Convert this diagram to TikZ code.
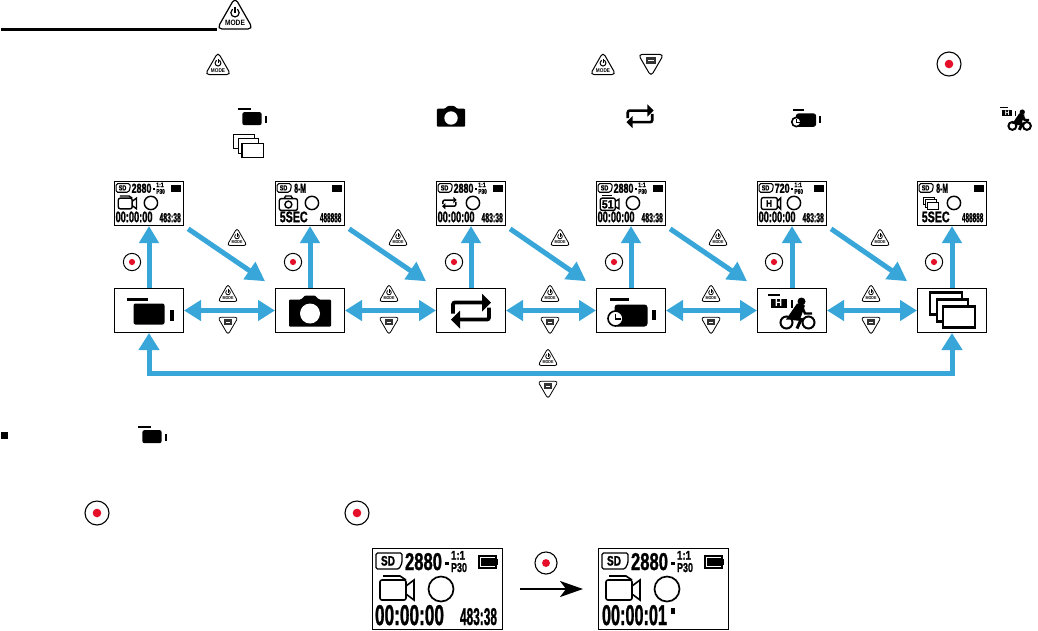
\documentclass[tikz,border=0pt]{standalone}
\usepackage{fontspec}
\setmainfont{Liberation Sans}
\newfontface\lcdface{Liberation Sans Bold}[FakeBold=1.5]
\usetikzlibrary{arrows.meta}
\definecolor{flow}{HTML}{38A6D8}
\definecolor{recred}{HTML}{E60F2A}
\definecolor{btndark}{HTML}{333333}
\newcount\lcdn
\def\btnr{5pt}
\newcommand\fit[3]{\resizebox{#1pt}{#2pt}{#3}}
\newcommand\lcdtext[5]{\global\advance\lcdn by 1 \node[lcdt] (t\the\lcdn) at (#1,#2) {\fit{#3}{#4}{\lcdface #5}};}
\newcommand\lcdbase[1]{%
  \draw[line width=#1pt,rounded corners=1.5pt] (4,5) -- (30,5) -- (30,15) -- (27,21) -- (4,21) -- cycle;
  \lcdtext{9}{8}{14}{9.5}{SD}
  \draw[line width=#1pt] (107,8) rectangle (124,20);
  \fill (109,10) rectangle (124,18);
  \fill (124,11) rectangle (126,17);
  \draw[line width=1.3*#1pt] (69,41) circle[radius=12.5];
}
\newcommand\lcdratio[1]{%
  \fill (73,14) rectangle (77,17);
  \lcdtext{79}{3}{14}{8.5}{1:1}
  \lcdtext{79}{15}{16}{9}{#1}
}
\newcommand\lcdcam[1]{%
  \draw[line width=#1pt,rounded corners=2pt] (8,32) rectangle (34,52);
  \draw[line width=#1pt] (11,28) -- (28,28) -- (34,32);
  \draw[line width=#1pt] (34,38) -- (42,32) -- (42,52) -- (34,46);
}
\newcommand\lcdphoto[1]{%
  \draw[line width=#1pt,rounded corners=2pt] (8,33) rectangle (42,55);
  \draw[line width=#1pt] (17,33) -- (20,28) -- (30,28) -- (33,33);
  \draw[line width=#1pt] (25,44) circle[radius=6.5];
}
\newcommand\lcdtimer[1]{%
  \draw[line width=#1pt] (12,27) -- (30,27);
  \draw[line width=#1pt,rounded corners=2pt] (8,32) rectangle (36,55);
  \lcdtext{11}{36}{22}{15}{51}
  \draw[line width=#1pt] (36,38) -- (43,34) -- (43,52) -- (36,48);
}
\newcommand\lcdhcam[1]{%
  \draw[line width=#1pt,rounded corners=2pt] (8,31) rectangle (38,53);
  \lcdtext{17}{36}{11}{12}{H}
  \draw[line width=#1pt] (38,38) -- (44,32) -- (44,52) -- (38,46);
}
\newcommand\lcdshot[2]{% x, text
  \begin{scope}[shift={(#1,181)},scale=.535,transform shape]
    #2
  \end{scope}}
\tikzset{
  x=1pt,y=-1pt,
  lcdt/.style={anchor=north west,inner sep=0pt,outer sep=0pt},
  modebox/.style={draw=black,line width=1pt,fill=white,minimum width=69pt,minimum height=44pt,inner sep=0pt,anchor=north west},
  flowline/.style={draw=flow,line width=5pt},
  uptip/.style={-{Triangle[width=19pt,length=17pt]}},
  bothtip/.style={{Triangle[width=20pt,length=17pt]}-{Triangle[width=20pt,length=17pt]}},
  difftip/.style={-{Triangle[width=20pt,length=19pt]},shorten <=5pt,shorten >=12pt},
  pics/modebtn/.style={code={
    \draw[fill=white,rounded corners=\btnr] (0,-20) -- (20,15) -- (-20,15) -- cycle;
    \draw (0,-3) circle[radius=4.6];
    \fill[white] (-2,-9.5) rectangle (2,-5);
    \draw (0,-9.5) -- (0,-3);
    \node[inner sep=0pt,transform shape] (modetxt) at (0,8) {\fit{22}{6}{\bfseries MODE}};
  }},
  pics/menubtn/.style={code={
    \draw[fill=white,rounded corners=\btnr] (-14.5,-11) -- (14.5,-11) -- (0,14) -- cycle;
    \fill[btndark] (-6,-8) rectangle (6,0);
    \draw[white,line width=.6pt] (-3,-4) -- (3,-4);
  }},
  pics/recbtn/.style={code={
    \draw (0,0) circle[radius=12];
    \fill[recred] (0,0) circle[radius=4.3];
  }},
  pics/filmcam/.style={code={
    \fill (-22.5,-13) rectangle (-1.5,-10);
    \fill[rounded corners=2pt] (-15.5,-7) rectangle (15.5,14);
    \fill (20.5,-1) rectangle (24.5,10);
  }},
  pics/photocam/.style={code={
    \fill[rounded corners=1pt] (-21,-11) -- (-9,-11) -- (-5,-15) -- (5,-15) -- (9,-11) -- (21,-11) -- (21,16) -- (-21,16) -- cycle;
    \fill[white] (0,3) circle[radius=10];
  }},
  pics/looparrows/.style={code={
    \draw[rounded corners=2pt] (-18,3) -- (-18,-8) -- (12,-8);
    \fill (11,-17) -- (20,-8) -- (11,1) -- cycle;
    \draw[rounded corners=2pt] (18,-3) -- (18,9) -- (-12,9);
    \fill (-11,0) -- (-20,9) -- (-11,18) -- cycle;
  }},
  pics/timecam/.style={code={
    \fill (-21.5,-13) rectangle (-2.5,-10);
    \fill[rounded corners=3pt] (-16.5,-6) rectangle (16.5,16);
    \fill (20.5,-1) rectangle (24.5,9);
    \draw[fill=white,line width=1.6pt] (-15.5,8) circle[radius=7.5];
    \draw[line width=1.2pt] (-15.5,3.5) -- (-15.5,8.5) -- (-10.5,8.5);
  }},
  pics/sportcam/.style={code={
    \fill (-24.5,-17) rectangle (-12.5,-15);
    \fill (-21.5,-12) rectangle (-5.5,-3);
    \node[inner sep=0pt,transform shape] (sporth) at (-13.5,-7.5) {\fit{7}{7}{\color{white}\bfseries H}};
    \fill (-1.5,-11) rectangle (0.5,-3);
    \fill (9.5,-9) circle[radius=4];
    \draw[line width=2pt] (-5.5,12) circle[radius=6];
    \draw[line width=2pt] (16.5,12) circle[radius=6];
    \fill (5,-7) -- (13,-5) -- (8,9) -- (-6,9) -- cycle;
    \draw[line width=2.4pt] (10,-4) -- (13,3) -- (20,3);
    \draw[line width=3pt] (0,8) -- (9,9) -- (5,18);
  }},
  pics/stackframes/.style={code={
    \draw[fill=white] (-22,-18) rectangle (10,4);
    \draw[fill=white] (-15,-11) rectangle (16,11);
    \draw[fill=white] (-9,-4) rectangle (23,17);
  }},
}
\newcommand\smallmode[2]{{\def\btnr{3pt}\pic[scale=.5,transform shape,line width=.8pt] at (#1,#2) {modebtn};}}
\newcommand\smallmenu[2]{{\def\btnr{3pt}\pic[scale=.7,transform shape,line width=.8pt] at (#1,#2) {menubtn};}}
\newcommand\smallrec[2]{\pic[scale=.72,transform shape,line width=1pt] at (#1,#2) {recbtn};}
\begin{document}
\begin{tikzpicture}
\useasboundingbox (0,0) rectangle (1038,630);
\fill[white] (0,0) rectangle (1038,630);

% title rule and inline icons
\fill (1,27.5) rectangle (217,30.5);
\pic[scale=.9,transform shape,line width=1.2pt] at (235,15.5) {modebtn};
{\def\btnr{4pt}
\pic[scale=.64,transform shape,line width=1pt] at (218,65) {modebtn};
\pic[scale=.64,transform shape,line width=1pt] at (603,65) {modebtn};
\pic[scale=.88,transform shape,line width=1pt] at (651,64) {menubtn};
}
\pic[scale=1,transform shape,line width=1.1pt] at (949,64) {recbtn};
\pic[scale=.62,transform shape] at (252,116.5) {filmcam};
\pic[scale=.67,transform shape] at (451,116) {photocam};
\pic[scale=.68,transform shape,line width=2.6pt] at (640,116) {looparrows};
\pic[scale=.62,transform shape] at (806,117) {timecam};
\pic[scale=.66,transform shape] at (1016,118) {sportcam};
\pic[scale=.66,transform shape,line width=1.2pt] at (248,146) {stackframes};

% mode boxes
\node[modebox] (c1) at (114,288) {};
\node[modebox] (c2) at (275,288) {};
\node[modebox] (c3) at (436,288) {};
\node[modebox] (c4) at (596,288) {};
\node[modebox] (c5) at (757,288) {};
\node[modebox] (c6) at (917,288) {};
\pic[transform shape] at (c1.center) {filmcam};
\pic[transform shape] at (c2.center) {photocam};
\pic[transform shape,line width=3.8pt] at (c3.center) {looparrows};
\pic[transform shape] at (c4.center) {timecam};
\pic[transform shape] at (c5.center) {sportcam};
\pic[transform shape,line width=2.4pt] at (c6.center) {stackframes};

% screen frames
\node[modebox] (s1) at (114,181) {};
\node[modebox] (s2) at (275,181) {};
\node[modebox] (s3) at (436,181) {};
\node[modebox] (s4) at (596,181) {};
\node[modebox] (s5) at (757,181) {};
\node[modebox] (s6) at (917,181) {};

\lcdshot{114}{\lcdbase{1.1}\lcdtext{33}{5}{37}{17}{2880}\lcdratio{P30}\lcdcam{1.4}\lcdtext{3}{57}{69}{20}{00:00:00}\lcdtext{85}{60}{40}{17}{483:38}}
\lcdshot{275}{\lcdbase{1.1}\lcdtext{36}{5}{22}{17}{8-M}\lcdphoto{1.4}\lcdtext{9}{57}{52}{20}{5SEC}\lcdtext{84}{60}{40}{17}{488888}}
\lcdshot{436}{\lcdbase{1.1}\lcdtext{33}{5}{37}{17}{2880}\lcdratio{P30}\pic[scale=.68,transform shape,line width=1.5pt] at (25,41) {looparrows};\lcdtext{3}{57}{69}{20}{00:00:00}\lcdtext{85}{60}{40}{17}{483:38}}
\lcdshot{596}{\lcdbase{1.1}\lcdtext{33}{5}{37}{17}{2880}\lcdratio{P30}\lcdtimer{1.4}\lcdtext{3}{57}{69}{20}{00:00:00}\lcdtext{85}{60}{40}{17}{483:38}}
\lcdshot{757}{\lcdbase{1.1}\lcdtext{33}{5}{28}{17}{720}\fill (63,14) rectangle (67,17);\lcdtext{70}{3}{14}{8.5}{1:1}\lcdtext{70}{15}{16}{9}{P60}\lcdhcam{1.4}\lcdtext{3}{57}{69}{20}{00:00:00}\lcdtext{85}{60}{40}{17}{483:38}}
\lcdshot{917}{\lcdbase{1.1}\lcdtext{36}{5}{22}{17}{8-M}\pic[scale=.62,transform shape,line width=1.1pt] at (26,42) {stackframes};\lcdtext{9}{57}{52}{20}{5SEC}\lcdtext{84}{60}{40}{17}{488888}}

% connectors
\foreach \i in {1,...,6}{
  \path[flowline,uptip] (c\i.north) -- (s\i.south);
}
\foreach \a/\b in {1/2,2/3,3/4,4/5,5/6}{
  \path[flowline,bothtip] (c\a.east) -- (c\b.west);
  \path[flowline,difftip] (s\a.south east) -- (c\b.north west);
}
\coordinate (loopy) at (0,373);
\path[flowline,bothtip] (c1.south) -- (c1.south |- loopy) -- (c6.south |- loopy) -- (c6.south);

% buttons on the diagram
\foreach \x in {228,389,550,711,871}{ \smallmode{\x}{294} \smallmenu{\x}{325} }
\foreach \x in {237,398,560,718,880}{ \smallmode{\x}{238} }
\foreach \x in {132,293,454,614,774,934}{ \smallrec{\x}{262} }
\smallmode{548}{358}
\smallmenu{548}{389}

% bullet line
\fill (1,431.5) rectangle (7.5,438.5);
\pic[scale=.62,transform shape] at (152,434.5) {filmcam};
\pic[scale=1,transform shape,line width=1.1pt] at (97,513) {recbtn};
\pic[scale=1,transform shape,line width=1.1pt] at (357,513) {recbtn};

% bottom screens
\node[draw=black,line width=1pt,minimum width=130pt,minimum height=81pt,inner sep=0pt,anchor=north west] (b1) at (372,548) {};
\node[draw=black,line width=1pt,minimum width=130pt,minimum height=81pt,inner sep=0pt,anchor=north west] (b2) at (598,548) {};
\begin{scope}[shift={(372,548)}]
  \lcdbase{1.3}\lcdtext{33}{5}{37}{17}{2880}\lcdratio{P30}\lcdcam{1.6}\lcdtext{3}{57}{69}{20}{00:00:00}\lcdtext{88}{60}{37}{17}{483:38}
\end{scope}
\begin{scope}[shift={(598,548)}]
  \lcdbase{1.3}\lcdtext{33}{5}{37}{17}{2880}\lcdratio{P30}\lcdcam{1.6}\lcdtext{4}{57}{65}{20}{00:00:01}
  \fill (73,60) rectangle (77,66);
\end{scope}
\draw[line width=2.5pt,-{Stealth[length=23pt,width=16pt,inset=6pt]},shorten <=17pt,shorten >=15pt] (b1.east) -- (b2.west);
\pic[scale=.92,transform shape,line width=1.1pt] at (546,563) {recbtn};
\end{tikzpicture}
\end{document}
